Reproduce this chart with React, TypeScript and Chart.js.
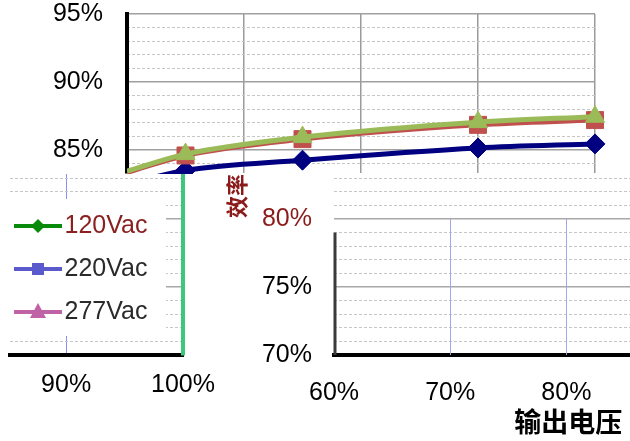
import React, { useEffect, useRef } from 'react';
import { Chart, registerables } from 'chart.js';
Chart.register(...registerables);

// ---------------- data ----------------
const seriesNames = ['120Vac', '220Vac', '277Vac'];
// upper panel: category positions of the points and efficiency values (%)
const upperPositions = [0, 0.5, 1.5, 3, 4];
const eff120 = [82.5, 83.5, 84.25, 85.15, 85.45];
const eff220 = [83.35, 84.6, 85.8, 86.85, 87.2];
const eff277 = [83.45, 84.7, 85.95, 87.05, 87.45];
// axis ranges (%)
const upperYRange = [83.31, 95];
const lowerYRange = [70, 83.3];
const lowerLeftXRange = [85.2, 100];
const lowerRightXRange = [60, 100.34];
const majorStep = 5;
const minorStep = 1;
const xStep = 10;
const xTitle = '输出电压';
const yTitle = '效率';

// ---------------- styles ----------------
const LATIN = 'Liberation Sans, Arial, sans-serif';
const CJK = 'Noto Sans CJK SC, sans-serif';
const tickFont = { family: LATIN, size: 25 };
const plotColors = ['#000080', '#C0504D', '#9BBB59'];
const plotStyles = ['rectRot', 'rect', 'triangle'];
const plotWidths = [5, 5, 5];
const plotRadii = [10, 12, 11];
const plotOrder = [2, 1, 0];
const legendColors = ['#0a8a0a', '#5a5acd', '#c062a6'];
const legendMarkers = ['diamond', 'square', 'triangle'];
const legendTextColors = ['#8a2020', '#2a2a2a', '#2a2a2a'];
const pct = (v: any) => v + '%';

function swatch(color: string, marker: string) {
  const c = document.createElement('canvas');
  c.width = 50;
  c.height = 22;
  const g = c.getContext('2d')!;
  g.strokeStyle = color;
  g.lineWidth = 4;
  g.beginPath();
  g.moveTo(2, 11);
  g.lineTo(50, 11);
  g.stroke();
  g.fillStyle = color;
  g.beginPath();
  if (marker === 'diamond') {
    g.moveTo(26, 4); g.lineTo(33, 11); g.lineTo(26, 18); g.lineTo(19, 11);
  } else if (marker === 'square') {
    g.rect(20, 5, 12, 12);
  } else {
    g.moveTo(26, 2); g.lineTo(34, 17); g.lineTo(18, 17);
  }
  g.closePath();
  g.fill();
  return c;
}

function minorAxis(range: number[], position: string) {
  return {
    position,
    min: range[0],
    max: range[1],
    ticks: { display: false, stepSize: minorStep, includeBounds: false, autoSkip: false, maxTicksLimit: 200 },
    grid: {
      color: (c: any) => (c.tick && c.tick.value % majorStep === 0 ? 'transparent' : '#c6c6c6'),
      lineWidth: 1,
      drawTicks: false,
    },
    border: { display: false, dash: [3, 2] },
    afterFit: (s: any) => { s.width = 0; },
  };
}

function upperConfig(): any {
  const all = [eff120, eff220, eff277];
  return {
    type: 'line',
    data: {
      datasets: all.map((vals, i) => ({
        label: seriesNames[i],
        data: vals.map((v, j) => ({ x: upperPositions[j], y: v })),
        order: plotOrder[i],
        borderColor: plotColors[i],
        backgroundColor: plotColors[i],
        borderWidth: plotWidths[i],
        pointStyle: plotStyles[i],
        pointRadius: (c: any) => (c.dataIndex === 0 ? 0 : plotRadii[i]),
        pointBackgroundColor: plotColors[i],
        pointBorderColor: plotColors[i],
        pointBorderWidth: 1,
        cubicInterpolationMode: 'monotone',
        clip: { left: 0, top: 15, right: 15, bottom: 1 },
      })),
    },
    options: {
      responsive: false,
      animation: false,
      layout: { padding: { left: 0, top: 40, right: 35, bottom: 40 } },
      plugins: { legend: { display: false }, tooltip: { enabled: false } },
      scales: {
        x: {
          type: 'linear',
          min: 0,
          max: 4,
          ticks: { display: false, stepSize: 1 },
          grid: { color: '#9a9a9a', lineWidth: 1.5, drawTicks: false },
          border: { display: false },
        },
        y: {
          position: 'left',
          min: upperYRange[0],
          max: upperYRange[1],
          ticks: { stepSize: majorStep, includeBounds: false, padding: 24, color: '#000', font: tickFont, callback: pct },
          grid: { color: '#a0a0a0', lineWidth: 1.5, drawTicks: false },
          border: { color: '#000', width: 4 },
          afterFit: (s: any) => { s.width = 127; },
        },
        y2: minorAxis(upperYRange, 'left'),
      },
    },
  };
}

const lowerRightFrame = {
  id: 'lowerRightFrame',
  beforeDatasetsDraw(chart: any) {
    const { ctx, scales } = chart;
    const x = scales.x;
    const y = scales.y;
    const top = y.getPixelForValue(80);
    const bottom = y.getPixelForValue(70);
    ctx.save();
    ctx.strokeStyle = '#a4a4ec';
    ctx.lineWidth = 1;
    x.ticks.forEach((t: any) => {
      if (t.value === lowerRightXRange[0]) return;
      const px = Math.round(x.getPixelForValue(t.value)) + 0.5;
      ctx.beginPath();
      ctx.moveTo(px, top);
      ctx.lineTo(px, bottom);
      ctx.stroke();
    });
    const ax = x.getPixelForValue(lowerRightXRange[0]) + 1;
    ctx.strokeStyle = '#3a3a3a';
    ctx.lineWidth = 3;
    ctx.beginPath();
    ctx.moveTo(ax, y.getPixelForValue(79));
    ctx.lineTo(ax, bottom);
    ctx.stroke();
    ctx.restore();
  },
};

function lowerRightConfig(): any {
  return {
    type: 'line',
    data: { datasets: [] },
    options: {
      responsive: false,
      animation: false,
      layout: { padding: { left: 0, top: 38, right: 40, bottom: 0 } },
      plugins: { legend: { display: false }, tooltip: { enabled: false } },
      scales: {
        x: {
          type: 'linear',
          min: lowerRightXRange[0],
          max: lowerRightXRange[1],
          ticks: { stepSize: xStep, includeBounds: false, padding: 15, color: '#000', font: tickFont, callback: pct },
          grid: { display: false },
          border: { color: '#000', width: 4 },
          title: {
            display: true,
            text: xTitle,
            color: '#000',
            font: { family: CJK, size: 27, weight: 'bold' },
            padding: { top: 0, bottom: 3 },
          },
          afterFit: (s: any) => { s.height = 86; },
        },
        y: {
          position: 'left',
          min: lowerYRange[0],
          max: lowerYRange[1],
          ticks: {
            stepSize: majorStep,
            includeBounds: false,
            padding: 22,
            font: tickFont,
            color: (c: any) => (c.tick && c.tick.value === 80 ? '#8b1a1a' : '#000'),
            callback: pct,
          },
          title: {
            display: true,
            text: yTitle,
            align: 'end',
            color: '#8b1a1a',
            font: { family: CJK, size: 22, weight: 'bold' },
            padding: { top: 3, bottom: 0 },
          },
          grid: { color: '#a8a8a8', lineWidth: 1.5, drawTicks: false },
          border: { display: false },
          afterFit: (s: any) => { s.width = 114; },
        },
        y2: minorAxis(lowerYRange, 'left'),
      },
    },
    plugins: [lowerRightFrame],
  };
}

function lowerLeftConfig(): any {
  return {
    type: 'line',
    data: { datasets: [] },
    options: {
      responsive: false,
      animation: false,
      layout: { padding: { left: 10, top: 20, right: 0, bottom: 0 } },
      plugins: { legend: { display: false }, tooltip: { enabled: false } },
      scales: {
        x: {
          type: 'linear',
          min: lowerLeftXRange[0],
          max: lowerLeftXRange[1],
          ticks: { stepSize: xStep, includeBounds: false, padding: 15, color: '#000', font: tickFont, callback: pct },
          grid: {
            color: (c: any) => (c.tick && c.tick.value === 90 ? '#8c8cf0' : 'transparent'),
            lineWidth: 1,
            drawTicks: false,
          },
          border: { color: '#000', width: 4 },
          afterFit: (s: any) => { s.height = 86; },
        },
        y: {
          position: 'right',
          min: lowerYRange[0],
          max: lowerYRange[1],
          ticks: { display: false, stepSize: majorStep, includeBounds: false },
          grid: { color: '#a8a8a8', lineWidth: 1.5, drawTicks: false },
          border: { color: '#3cc878', width: 4 },
          afterFit: (s: any) => { s.width = 45; },
        },
        y2: minorAxis(lowerYRange, 'right'),
      },
    },
  };
}

const legendBackdrop = {
  id: 'legendBackdrop',
  beforeDraw(chart: any) {
    const { ctx, width } = chart;
    ctx.save();
    ctx.fillStyle = '#fff';
    ctx.fillRect(0, 5, width, 137);
    ctx.restore();
  },
};

function legendConfig(): any {
  const images = legendColors.map((c, i) => swatch(c, legendMarkers[i]));
  return {
    type: 'line',
    data: {
      datasets: seriesNames.map((n, i) => ({ label: n, data: [], borderColor: legendColors[i] })),
    },
    options: {
      responsive: false,
      animation: false,
      layout: { padding: 0 },
      scales: { x: { display: false }, y: { display: false } },
      plugins: {
        tooltip: { enabled: false },
        legend: {
          position: 'left',
          align: 'center',
          maxWidth: 162,
          labels: {
            usePointStyle: true,
            pointStyleWidth: 30,
            padding: 18,
            font: tickFont,
            generateLabels: (chart: any) =>
              chart.data.datasets.map((ds: any, i: number) => ({
                text: ds.label,
                pointStyle: images[i],
                fontColor: legendTextColors[i],
                fillStyle: legendColors[i],
                strokeStyle: legendColors[i],
                lineWidth: 0,
                hidden: false,
                datasetIndex: i,
              })),
          },
        },
      },
    },
    plugins: [legendBackdrop],
  };
}

function ChartCanvas(props: { make: () => any; left: number; top: number; width: number; height: number }) {
  const ref = useRef<HTMLCanvasElement>(null);
  useEffect(() => {
    const chart = new Chart(ref.current!, props.make());
    return () => chart.destroy();
  }, []);
  return (
    <canvas
      ref={ref}
      width={props.width}
      height={props.height}
      style={{ position: 'absolute', left: props.left, top: props.top, width: props.width, height: props.height }}
    />
  );
}

export default function App() {
  return (
    <div style={{ position: 'fixed', left: 0, top: 0, width: 630, height: 441, overflow: 'hidden', background: '#fff' }}>
      <ChartCanvas make={lowerLeftConfig} left={0} top={154} width={230} height={287} />
      <ChartCanvas make={lowerRightConfig} left={220} top={136} width={626} height={305} />
      <ChartCanvas make={upperConfig} left={0} top={-26} width={630} height={239} />
      <ChartCanvas make={legendConfig} left={4} top={194} width={162} height={150} />
    </div>
  );
}
